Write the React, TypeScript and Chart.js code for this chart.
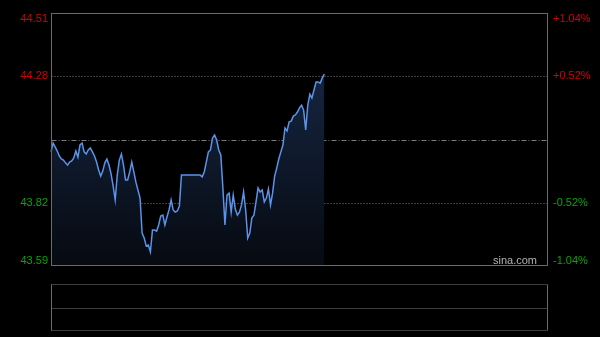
import React, { useEffect, useRef } from "react";
import { Chart, registerables } from "chart.js";

Chart.register(...registerables);

const prevClose = 44.05;
const priceMin = 43.59;
const priceMax = 44.51;
const leftTickValues = [44.51, 44.28, 43.82, 43.59];
const leftTickLabels = ["44.51", "44.28", "43.82", "43.59"];
const rightTickLabels = ["+1.04%", "+0.52%", "-0.52%", "-1.04%"];
const gridValues = [44.28, 43.82];

const prices = [
  44.005, 44.037, 44.023, 44.008, 43.99, 43.979, 43.975, 43.965, 43.957, 43.968,
  43.972, 43.983, 44.008, 43.986, 44.03, 44.037, 44.005, 43.997, 44.012, 44.019,
  44.005, 43.99, 43.968, 43.939, 43.917, 43.935, 43.965, 43.979, 43.957, 43.925,
  43.881, 43.83, 43.921, 43.975, 43.997, 43.957, 43.903, 43.903, 43.932, 43.968,
  43.932, 43.895, 43.866, 43.837, 43.71, 43.692, 43.663, 43.666, 43.641, 43.721,
  43.721, 43.717, 43.739, 43.772, 43.775, 43.739, 43.768, 43.794, 43.83, 43.794,
  43.786, 43.79, 43.808, 43.921, 43.921, 43.921, 43.921, 43.921, 43.921, 43.921,
  43.921, 43.921, 43.921, 43.914, 43.932, 43.968, 44.005, 44.012, 44.055, 44.066,
  44.048, 44.012, 43.994, 43.874, 43.739, 43.848, 43.855, 43.786, 43.848, 43.797,
  43.775, 43.786, 43.812, 43.859, 43.794, 43.692, 43.71, 43.765, 43.775, 43.823,
  43.874, 43.859, 43.866, 43.823, 43.837, 43.87, 43.812, 43.855, 43.917, 43.946,
  43.979, 44.005, 44.03, 44.092, 44.081, 44.114, 44.117, 44.135, 44.139, 44.15,
  44.165, 44.175, 44.157, 44.085, 44.175, 44.215, 44.201, 44.23, 44.259, 44.259,
  44.255, 44.274, 44.288,
];

function buildTimeLabels(): string[] {
  const out: string[] = [];
  const push = (h: number, m: number) =>
    out.push(`${String(h).padStart(2, "0")}:${String(m).padStart(2, "0")}`);
  for (let t = 9 * 60 + 30; t <= 11 * 60 + 30; t++) push(Math.floor(t / 60), t % 60);
  for (let t = 13 * 60 + 1; t <= 15 * 60; t++) push(Math.floor(t / 60), t % 60);
  return out;
}
const timeLabels = buildTimeLabels();

const RED = "#d40000";
const GREEN = "#00a800";
const FRAME = "#6a6a6a";
const DOT = "#7a7a7a";

const framePlugin = {
  id: "sinaFrame",
  beforeDatasetsDraw(chart: any) {
    const { ctx, chartArea } = chart;
    const y = chart.scales.y;
    const l = Math.round(chartArea.left) + 0.5;
    const r = Math.round(chartArea.right) - 0.5;
    ctx.save();
    ctx.lineWidth = 1;
    // dotted grid
    ctx.strokeStyle = DOT;
    ctx.setLineDash([1, 2]);
    gridValues.forEach((v) => {
      const py = Math.round(y.getPixelForValue(v)) + 0.5;
      ctx.beginPath();
      ctx.moveTo(l, py);
      ctx.lineTo(r, py);
      ctx.stroke();
    });
    // center dash-dot
    ctx.setLineDash([5, 2, 1, 2]);
    const cy = Math.round(y.getPixelForValue(prevClose)) + 0.5;
    ctx.beginPath();
    ctx.moveTo(l, cy);
    ctx.lineTo(r, cy);
    ctx.stroke();
    ctx.restore();
  },
  afterDraw(chart: any) {
    const { ctx, chartArea } = chart;
    const y = chart.scales.y;
    const l = Math.round(chartArea.left) + 0.5;
    const r = Math.round(chartArea.right) - 0.5;
    const t = Math.round(chartArea.top) + 0.5;
    const b = Math.round(chartArea.bottom) - 0.5;
    ctx.save();
    ctx.lineWidth = 1;
    ctx.strokeStyle = FRAME;
    ctx.setLineDash([]);
    ctx.strokeRect(l, t, r - l, b - t);

    // labels
    ctx.font = "11px Arial, 'Liberation Sans', sans-serif";
    leftTickValues.forEach((v, i) => {
      const py = y.getPixelForValue(v);
      const color = v >= prevClose ? RED : GREEN;
      ctx.fillStyle = color;
      let yy = py;
      if (i === 0) yy = py + 6;
      else if (i === leftTickValues.length - 1) yy = py - 5;
      ctx.textBaseline = "middle";
      ctx.textAlign = "right";
      ctx.fillText(leftTickLabels[i], chartArea.left - 3, yy);
      ctx.textAlign = "left";
      ctx.fillText(rightTickLabels[i], chartArea.right + 5, yy);
    });

    // watermark
    ctx.fillStyle = "#b4b4b4";
    ctx.textAlign = "right";
    ctx.textBaseline = "middle";
    ctx.fillText("sina.com", chartArea.right - 11, chartArea.bottom - 5);

    // lower (volume) panel
    const vt = b + 19;
    const vb = b + 65;
    const vm = Math.round((vt + vb) / 2) + 0.5;
    ctx.strokeStyle = FRAME;
    ctx.beginPath();
    ctx.moveTo(l, vt);
    ctx.lineTo(l, vb);
    ctx.moveTo(r, vt);
    ctx.lineTo(r, vb);
    ctx.stroke();
    ctx.strokeStyle = DOT;
    ctx.setLineDash([1, 1]);
    [vt, vm, vb].forEach((py) => {
      ctx.beginPath();
      ctx.moveTo(l, py);
      ctx.lineTo(r, py);
      ctx.stroke();
    });
    ctx.restore();
  },
};

export default function App() {
  const ref = useRef<HTMLCanvasElement | null>(null);
  useEffect(() => {
    document.body.style.background = "#000";
    const canvas = ref.current;
    if (!canvas) return;
    const chart = new Chart(canvas, {
      type: "line",
      data: {
        labels: timeLabels,
        datasets: [
          {
            data: prices,
            borderColor: "#5a93ea",
            borderWidth: 1.5,
            pointRadius: 0,
            tension: 0,
            fill: "start",
            backgroundColor: (c: any) => {
              const area = c.chart.chartArea;
              if (!area) return "rgba(20,40,70,0.5)";
              const g = c.chart.ctx.createLinearGradient(0, area.top, 0, area.bottom);
              g.addColorStop(0, "#1a2d4e");
              g.addColorStop(1, "#060a11");
              return g;
            },
          },
        ],
      },
      options: {
        responsive: false,
        animation: false,
        devicePixelRatio: 1,
        layout: { padding: { left: 51, right: 52, top: 13, bottom: 71 } },
        plugins: { legend: { display: false }, tooltip: { enabled: false } },
        scales: {
          x: { type: "category", display: false, offset: false },
          y: { type: "linear", display: false, min: priceMin, max: priceMax },
        },
      },
      plugins: [framePlugin],
    });
    return () => chart.destroy();
  }, []);
  return (
    <div style={{ position: "fixed", left: 0, top: 0, width: 600, height: 337, background: "#000" }}>
      <canvas ref={ref} width={600} height={337} style={{ display: "block" }} />
    </div>
  );
}
